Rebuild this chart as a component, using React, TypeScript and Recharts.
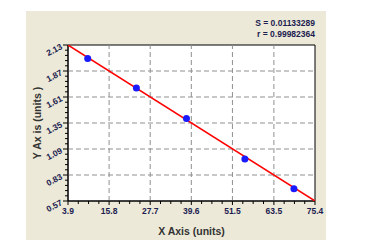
import React from "react";
import {
  ComposedChart,
  Scatter,
  XAxis,
  YAxis,
  ReferenceLine,
  ReferenceArea,
  Label,
} from "recharts";

// tick labels
const xMajor = [3.9, 15.8, 27.7, 39.6, 51.5, 63.5, 75.4];
const yMajor = [0.57, 0.83, 1.09, 1.35, 1.61, 1.87, 2.13];

// measured standards
const stdX = [9.6, 23.7, 38.2, 55.1, 69.3];
const stdY = [1.996, 1.699, 1.395, 0.991, 0.693];

// fitted line ends
const fitX = [3.9, 75.4];
const fitY = [2.13, 0.57];

const statS = "S = 0.01133289";
const statR = "r = 0.99982364";

const points = stdX.map((x, i) => ({ x, y: stdY[i] }));
const fit = fitX.map((x, i) => ({ x, y: fitY[i] }));

function withMinor(majors: number[], parts: number) {
  const out: number[] = [];
  majors.forEach((m, i) => {
    out.push(m);
    const next = majors[i + 1];
    if (next === undefined) return;
    for (let k = 1; k < parts; k++) out.push(m + ((next - m) * k) / parts);
  });
  return out;
}

const xTicks = withMinor(xMajor, 4);
const yTicks = withMinor(yMajor, 5);
const xSet = new Set(xMajor);
const ySet = new Set(yMajor);

const labelColor = "#1c1c50";
const font = "'Liberation Sans', Arial, sans-serif";

const XTick = (props: any) => {
  const { x, y, payload } = props;
  const major = xSet.has(payload.value);
  return (
    <g>
      <line x1={x} x2={x} y1={y} y2={y + (major ? 4 : 3)} stroke="#000" />
      {major ? (
        <text x={x} y={y + 13} textAnchor="middle" fontSize={8.5} fontWeight="bold" fill={labelColor} fontFamily={font}>
          {payload.value.toFixed(1)}
        </text>
      ) : null}
    </g>
  );
};

const YTick = (props: any) => {
  const { x, y, payload } = props;
  const major = ySet.has(payload.value);
  const tx = x - 7;
  return (
    <g>
      <line x1={x} x2={x - (major ? 5 : 3)} y1={y} y2={y} stroke="#000" />
      {major ? (
        <text
          x={tx}
          y={y + 4}
          textAnchor="end"
          fontSize={8.5}
          fontWeight="bold"
          fill={labelColor}
          fontFamily={font}
          transform={`rotate(-28, ${tx}, ${y})`}
        >
          {payload.value.toFixed(2)}
        </text>
      ) : null}
    </g>
  );
};

export default function App() {
  return (
    <div style={{ position: "absolute", left: 0, top: 0, width: 392, height: 240, background: "#fff" }}>
      <div style={{ position: "absolute", left: 26, top: 11, width: 300, height: 229, background: "#ECE9D8" }}>
        <div
          style={{
            position: "absolute",
            right: 11,
            top: 7,
            textAlign: "right",
            fontFamily: font,
            fontSize: 8.5,
            fontWeight: "bold",
            lineHeight: "10.5px",
            color: labelColor,
          }}
        >
          <div>{statS}</div>
          <div>{statR}</div>
        </div>
        <ComposedChart width={300} height={229} margin={{ top: 34, right: 11, left: 0, bottom: 0 }}>
          <ReferenceArea x1={3.9} x2={75.4} y1={0.57} y2={2.13} fill="#fff" fillOpacity={1} stroke="none" />
          {xMajor.slice(1, -1).map((v) => (
            <ReferenceLine key={"x" + v} x={v} stroke="#8f8f8f" strokeDasharray="5 3" />
          ))}
          {yMajor.slice(1, -1).map((v) => (
            <ReferenceLine key={"y" + v} y={v} stroke="#8f8f8f" strokeDasharray="5 3" />
          ))}
          <XAxis
            type="number"
            dataKey="x"
            domain={[3.9, 75.4]}
            allowDataOverflow
            ticks={xTicks}
            interval={0}
            tickLine={false}
            tickSize={0}
            tickMargin={0}
            tick={<XTick />}
            height={39}
            axisLine={{ stroke: "#000" }}
          >
            <Label
              value="X Axis (units)"
              position="insideBottom"
              offset={5}
              style={{ fontFamily: font, fontSize: 10.5, fontWeight: "bold", fill: "#333" }}
            />
          </XAxis>
          <YAxis
            type="number"
            dataKey="y"
            domain={[0.57, 2.13]}
            allowDataOverflow
            ticks={yTicks}
            interval={0}
            tickLine={false}
            tickSize={0}
            tickMargin={0}
            tick={<YTick />}
            width={42}
            axisLine={{ stroke: "#000" }}
          >
            <Label
              value="Y Ax is (units )"
              angle={-90}
              position="insideLeft"
              offset={11}
              style={{ textAnchor: "middle", fontFamily: font, fontSize: 10.5, fontWeight: "bold", fill: "#333" }}
            />
          </YAxis>
          <ReferenceArea x1={3.9} x2={75.4} y1={0.57} y2={2.13} fill="none" stroke="#000" />
          <Scatter
            data={fit}
            line={{ stroke: "#ff0000", strokeWidth: 1.5 }}
            shape={() => <g />}
            isAnimationActive={false}
          />
          <Scatter
            data={points}
            fill="#1a1aff"
            shape={(p: any) => <circle cx={p.cx} cy={p.cy} r={3.5} fill="#1a1aff" />}
            isAnimationActive={false}
          />
        </ComposedChart>
      </div>
    </div>
  );
}
